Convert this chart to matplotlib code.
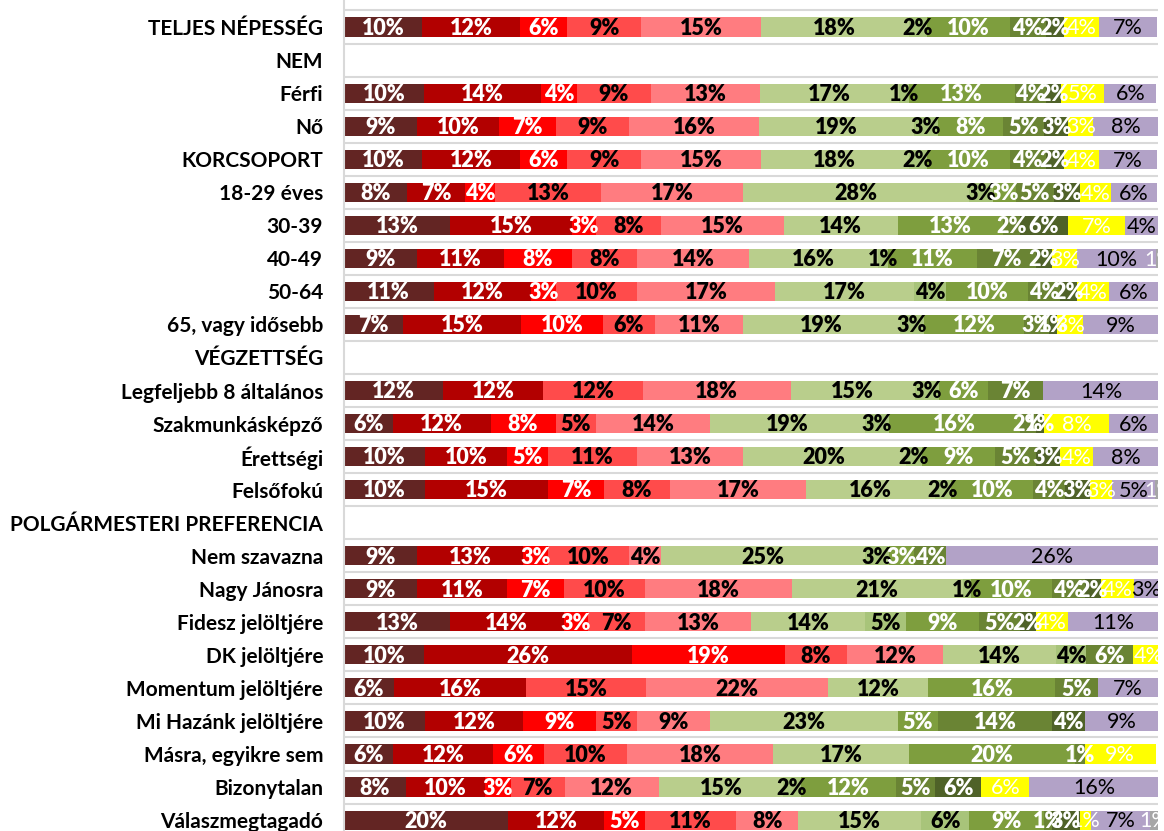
import matplotlib
matplotlib.use("Agg")
import matplotlib.pyplot as plt
import numpy as np

plt.rcParams['font.family'] = ['Lato', 'DejaVu Sans']

categories = [
    "TELJES NÉPESSÉG", "NEM", "Férfi", "Nő", "KORCSOPORT", "18-29 éves",
    "30-39", "40-49", "50-64", "65, vagy idősebb", "VÉGZETTSÉG",
    "Legfeljebb 8 általános", "Szakmunkásképző", "Érettségi", "Felsőfokú",
    "POLGÁRMESTERI PREFERENCIA", "Nem szavazna", "Nagy Jánosra",
    "Fidesz jelöltjére", "DK jelöltjére", "Momentum jelöltjére",
    "Mi Hazánk jelöltjére", "Másra, egyikre sem", "Bizonytalan",
    "Válaszmegtagadó",
]

# segment order: 0..10 scale, don't know, refused
v_teljes = [9.6, 12.0, 5.8, 9.1, 14.7, 18.2, 2.2, 10.2, 4.4, 2.3, 4.2, 7.2, 0]
v_ferfi = [9.8, 14.4, 4.4, 9.1, 13.4, 17.1, 1.2, 13.0, 3.9, 1.8, 5.3, 6.4, 0]
v_no = [9, 10, 7, 9, 16, 19, 3, 8, 5, 3, 3, 8, 0]
v_korcsoport = [9.6, 12.0, 5.8, 9.1, 14.7, 18.2, 2.2, 10.2, 4.4, 2.3, 4.2, 7.2, 0]
v_1829 = [7.7, 7.2, 3.7, 13.0, 17.4, 27.8, 2.9, 2.8, 4.7, 3.2, 3.8, 5.7, 0]
v_3039 = [13, 15, 3, 8, 15, 14, 0, 13, 2, 6, 7, 4, 0]
v_4049 = [9.0, 10.6, 8.4, 8.0, 13.8, 15.8, 1.2, 11.0, 7.2, 2.0, 3.1, 9.6, 1.0]
v_5064 = [11, 12, 3, 10, 17, 17, 4, 10, 4, 2, 4, 6, 0]
v_65 = [7.2, 14.6, 10.0, 6.4, 10.8, 19.3, 3.0, 12.2, 3.1, 1.0, 3.2, 9.2, 0]
v_legf8 = [12.2, 12.3, 0, 12.2, 18.2, 15.2, 3.0, 6.0, 6.8, 0, 0, 14.3, 0]
v_szakm = [6, 12, 8, 5, 14, 19, 3, 16, 2, 1, 8, 6, 0]
v_erett = [10, 10, 5, 11, 13, 20, 2, 9, 5, 3, 4, 8, 0]
v_felso = [10, 15, 7, 8, 16.8, 15.8, 2, 10, 4, 3, 2.8, 5.2, 1]
v_nemsz = [9, 13, 3, 10, 4, 25, 3, 3, 4, 0, 0, 26, 0]
v_nagy = [9, 11, 7, 10, 18, 21, 1, 10, 4, 2, 4, 3, 0]
v_fidesz = [13, 14, 3, 7, 13, 14, 5, 9, 5, 2, 4, 11, 0]
v_dk = [9.8, 25.6, 18.8, 7.6, 11.8, 13.9, 3.6, 0, 5.8, 0, 4.0, 0, 0]
v_momentum = [6.1, 16.3, 0, 14.7, 22.4, 12.3, 0, 15.6, 5.2, 0, 0, 7.4, 0]
v_mihazank = [10, 12, 9, 5, 9, 23, 0, 5, 14, 4, 0, 9, 0]
v_masra = [6.0, 12.3, 6.3, 10.2, 17.9, 16.7, 0, 20.4, 1.2, 0, 8.7, 0, 0]
v_bizonytalan = [7.6, 9.7, 3.2, 6.6, 11.6, 15.2, 2.3, 11.6, 4.8, 5.7, 5.9, 16.0, 0]
v_valasz = [20.1, 11.9, 5.0, 11.2, 7.6, 15.1, 5.9, 9.2, 1.0, 3.4, 1.4, 7.2, 1.0]

rows = [
    v_teljes, None, v_ferfi, v_no, v_korcsoport, v_1829, v_3039, v_4049,
    v_5064, v_65, None, v_legf8, v_szakm, v_erett, v_felso, None,
    v_nemsz, v_nagy, v_fidesz, v_dk, v_momentum, v_mihazank, v_masra,
    v_bizonytalan, v_valasz,
]

colors = ["#632523", "#B20000", "#FF0000", "#FF4B4B", "#FF7C80",
          "#B9CE8C", "#A8C47A", "#7E9E3E", "#6A8434", "#4F6228",
          "#FFFF00", "#B2A2C7", "#A6A6A6"]
label_colors = ["white", "white", "white", "black", "black", "black", "black",
                "white", "white", "white", "white", "black", "white"]
label_weights = ["heavy"] * 10 + ["normal"] * 3

FS_CAT = 15
FS_LAB = 15.5

fig = plt.figure(figsize=(11.64, 8.31), dpi=100)
ax = fig.add_axes([344 / 1164, 0, 814 / 1164, 1])
ax.set_xlim(0, 100)
ax.set_ylim(24.33, -0.817)

for b in np.arange(-0.5, len(categories) + 0.5, 1):
    ax.axhline(b, color="#D9D9D9", lw=1.5, zorder=0)

for i, row in enumerate(rows):
    if row is None:
        continue
    left = 0.0
    for k, v in enumerate(row):
        if v <= 0:
            continue
        ax.barh(i, v, left=left, height=0.58, color=colors[k], lw=0, zorder=2)
        ax.text(left + v / 2, i + 0.04, f"{round(v)}%", ha="center", va="center",
                color=label_colors[k], fontweight=label_weights[k],
                fontsize=FS_LAB, clip_on=True, zorder=3)
        left += v

ax.set_yticks(range(len(categories)))
ax.set_yticklabels(categories, fontweight="bold", fontsize=FS_CAT)
ax.tick_params(axis="y", length=0, pad=15)
ax.set_xticks([])
for s in ["top", "right", "bottom"]:
    ax.spines[s].set_visible(False)
ax.spines["left"].set_color("#D9D9D9")
ax.spines["left"].set_linewidth(1.5)

fig.savefig("out.png", dpi=100)
